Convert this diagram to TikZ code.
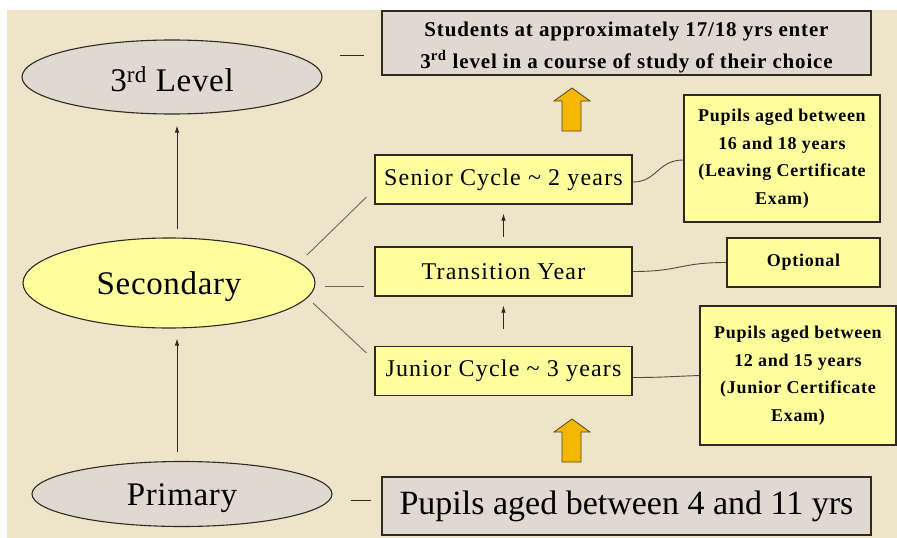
\documentclass[tikz,border=0pt]{standalone}
\usepackage{fontspec}
\setmainfont{Liberation Serif}
\usetikzlibrary{shapes.geometric,arrows.meta,calc}
\definecolor{bgbeige}{HTML}{EDE4CA}
\definecolor{grayfill}{HTML}{E0D9D0}
\definecolor{yellowfill}{HTML}{FFFF9E}
\definecolor{goldfill}{HTML}{F5B700}
\definecolor{edge}{HTML}{2E2A22}
\definecolor{thinline}{HTML}{6E675A}
\newcommand{\lowered}[2]{\raisebox{-#1}[\height][\depth]{#2}}
\tikzset{
  ell/.style={ellipse,draw=edge,line width=1.1pt,inner sep=0pt,font=\fontsize{33}{36}\selectfont\addfontfeatures{LetterSpace=2}},
  graybox/.style={rectangle,draw=edge,line width=1.1pt,fill=grayfill,inner sep=0pt,align=center},
  cyclebox/.style={rectangle,draw=edge,line width=1.1pt,fill=yellowfill,inner sep=0pt,minimum width=257pt,minimum height=49pt,font=\fontsize{24}{26}\selectfont\addfontfeatures{LetterSpace=5}},
  sidebox/.style={rectangle,draw=edge,line width=1.1pt,fill=yellowfill,inner sep=0pt,align=center,font=\bfseries\fontsize{18}{27.5}\selectfont\addfontfeatures{LetterSpace=4}},
  arr/.style={-{Latex[length=7pt,width=4.5pt]},line width=0.9pt,draw=edge},
  link/.style={line width=0.9pt,draw=thinline},
  curvelink/.style={line width=0.9pt,draw=edge!85},
  blockarrow/.style={fill=goldfill,draw=edge!80!goldfill,line width=0.8pt,line join=miter}
}
\begin{document}
\begin{tikzpicture}[x=1pt,y=-1pt]
\useasboundingbox (0,0) rectangle (897,538);
\fill[white] (0,0) rectangle (897,538);
\fill[bgbeige] (7,10) rectangle (897,538);

% ellipses
\node[ell,fill=grayfill,minimum width=300pt,minimum height=74pt] (third) at (172,77) {\lowered{2pt}{3\textsuperscript{rd} Level}};
\node[ell,fill=yellowfill,minimum width=292pt,minimum height=90pt] (sec) at (169,283) {\lowered{4pt}{Secondary}};
\node[ell,fill=grayfill,minimum width=300pt,minimum height=65pt] (prim) at (182,494) {\lowered{4pt}{Primary}};

% gray boxes
\node[graybox,minimum width=489pt,minimum height=60pt,font=\bfseries\fontsize{21}{32}\selectfont\addfontfeatures{LetterSpace=4}] (topbox) at (626.5,43)
  {\lowered{3pt}{\begin{tabular}{@{}c@{}}Students at approximately 17/18 yrs enter\\3\textsuperscript{rd} level in a course of study of their choice\end{tabular}}};
\node[graybox,minimum width=489pt,minimum height=58pt,font=\fontsize{34}{36}\selectfont] (botbox) at (626.5,506)
  {Pupils aged between 4 and 11 yrs};

% cycle boxes
\node[cyclebox] (senior) at (503.5,179.5) {Senior Cycle \char`~\ 2 years};
\node[cyclebox] (trans) at (503.5,271.5) {Transition Year};
\node[cyclebox] (junior) at (503.5,371) {Junior Cycle \char`~\ 3 years};

% side boxes
\node[sidebox,minimum width=196pt,minimum height=127pt] (p16) at (782,158.5)
  {Pupils aged between\\16 and 18 years\\(Leaving Certificate\\Exam)};
\node[sidebox,minimum width=153pt,minimum height=49pt] (opt) at (803.5,262.5) {Optional};
\node[sidebox,minimum width=196pt,minimum height=139pt] (p12) at (798,375.5)
  {Pupils aged between\\12 and 15 years\\(Junior Certificate\\Exam)};

% vertical arrows
\draw[arr] ([xshift=8pt,yshift=8pt]sec.north) -- ([xshift=5pt,yshift=-11pt]third.south);
\draw[arr] ([xshift=-5pt,yshift=9pt]prim.north) -- ([xshift=8pt,yshift=-10pt]sec.south);
\draw[arr] ([yshift=9pt]trans.north) -- ([yshift=-9pt]senior.south);
\draw[arr] ([yshift=17pt]junior.north) -- ([yshift=-9pt]trans.south);

% dashes
\draw[link,draw=edge] ($(third.east)+(17,-22)$) coordinate (d1a) -- ($(topbox.west)+(-17,12)$) coordinate (d1b);
\draw[link,draw=edge] ($(prim.east)+(18,6)$) coordinate (d2a) -- ($(botbox.west)+(-10,-6)$) coordinate (d2b);

% secondary links
\draw[link] ($(sec.center)+(138,-28)$) coordinate (s1) -- ($(senior.west)+(-8,17.5)$);
\draw[link] ($(sec.center)+(156,3)$) coordinate (s2) -- ($(trans.west)+(-10,14.5)$);
\draw[link] ($(sec.center)+(144,20)$) coordinate (s3) -- ($(junior.west)+(-8,-18)$);

% curvy links
\draw[curvelink] ($(senior.east)+(0.5,2.5)$) .. controls +(24,0) and +(-26,0) .. ($(p16.west)+(0,1.5)$);
\draw[curvelink] ($(trans.east)+(0.5,0)$) .. controls +(48,0) and +(-48,0) .. (opt.west);
\draw[curvelink] ($(junior.east)+(0.5,6.5)$) .. controls +(30,0) and +(-30,1) .. ($(p12.west)+(0,0)$);

% block arrows
\draw[blockarrow] (562,131) -- (562,101) -- (554,101) -- (572,88) -- (590,101) -- (581,101) -- (581,131) -- cycle;
\draw[blockarrow] (562,462) -- (562,432) -- (554,432) -- (572,419) -- (590,432) -- (581,432) -- (581,462) -- cycle;
\end{tikzpicture}
\end{document}
